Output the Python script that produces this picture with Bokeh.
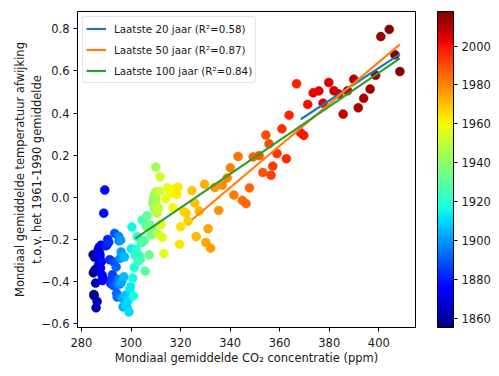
import numpy as np
from bokeh.plotting import figure
from bokeh.models import (ColumnDataSource, LinearColorMapper, ColorBar, FixedTicker,
                          Range1d)
from bokeh.transform import transform
from bokeh.embed import file_html
from bokeh.resources import INLINE

# ---------------- data ----------------
first_year = 1855
temp_anomaly = [
    -0.272, -0.358, -0.461, -0.467, -0.284,                                   # 1855-1859
    -0.343, -0.407, -0.524, -0.278, -0.494, -0.279, -0.251, -0.321, -0.238, -0.262,  # 1860s
    -0.276, -0.335, -0.227, -0.304, -0.368, -0.395, -0.384, -0.075, 0.035, -0.230,   # 1870s
    -0.227, -0.200, -0.213, -0.296, -0.409, -0.389, -0.367, -0.418, -0.307, -0.171,  # 1880s
    -0.416, -0.330, -0.455, -0.473, -0.410, -0.390, -0.186, -0.206, -0.412, -0.289,  # 1890s
    -0.203, -0.259, -0.402, -0.479, -0.520, -0.377, -0.283, -0.465, -0.511, -0.522,  # 1900s
    -0.490, -0.544, -0.437, -0.424, -0.244, -0.141, -0.383, -0.468, -0.333, -0.275,  # 1910s
    -0.247, -0.187, -0.302, -0.276, -0.294, -0.215, -0.108, -0.210, -0.206, -0.350,  # 1920s
    -0.137, -0.087, -0.137, -0.273, -0.131, -0.178, -0.147, -0.026, -0.006, -0.052,  # 1930s
    0.014, 0.020, -0.027, -0.004, 0.144, 0.025, -0.071, -0.038, -0.039, -0.074,      # 1940s
    -0.173, -0.052, 0.028, 0.097, -0.129, -0.190, -0.267, -0.007, 0.046, 0.017,      # 1950s
    -0.049, 0.038, 0.014, 0.048, -0.223, -0.140, -0.068, -0.074, -0.113, 0.032,      # 1960s
    -0.027, -0.186, -0.065, 0.062, -0.214, -0.149, -0.241, 0.047, -0.062, 0.057,     # 1970s
    0.092, 0.140, 0.011, 0.194, -0.014, -0.030, 0.045, 0.192, 0.198, 0.118,          # 1980s
    0.296, 0.254, 0.105, 0.148, 0.208, 0.325, 0.183, 0.390, 0.539, 0.306,            # 1990s
    0.294, 0.441, 0.496, 0.505, 0.447, 0.545, 0.506, 0.491, 0.395, 0.506,            # 2000s
    0.560, 0.425, 0.470, 0.514, 0.579, 0.763, 0.797, 0.677, 0.597,                   # 2010-2018
]
co2_ppm = [
    284.7, 284.8, 285.0, 285.1, 285.3,                                        # 1855-1859
    285.5, 285.7, 285.9, 286.1, 286.3, 286.5, 286.7, 286.9, 287.1, 287.3,     # 1860s
    287.5, 287.7, 287.9, 288.1, 288.3, 288.5, 288.7, 289.0, 289.4, 289.8,     # 1870s
    290.2, 290.6, 291.0, 291.4, 291.8, 292.2, 292.5, 292.8, 293.1, 293.4,     # 1880s
    293.7, 294.0, 294.2, 294.4, 294.6, 294.8, 295.0, 295.2, 295.4, 295.6,     # 1890s
    295.8, 296.0, 296.2, 296.5, 296.8, 297.1, 297.4, 297.7, 298.0, 298.4,     # 1900s
    298.8, 299.2, 299.5, 299.8, 300.1, 300.4, 300.7, 301.0, 301.3, 301.7,     # 1910s
    302.1, 302.5, 302.9, 303.3, 303.7, 304.1, 304.5, 304.9, 305.3, 305.7,     # 1920s
    306.1, 306.5, 306.9, 307.3, 307.7, 308.1, 308.5, 308.8, 309.1, 309.4,     # 1930s
    309.6, 309.8, 309.9, 310.0, 310.0, 310.1, 310.2, 310.3, 310.4, 310.6,     # 1940s
    310.8, 311.1, 311.4, 311.7, 312.1, 312.6, 313.2, 313.9, 314.8, 316.0,     # 1950s
    316.9, 317.6, 318.5, 319.0, 319.6, 320.0, 321.4, 322.2, 323.0, 324.6,     # 1960s
    325.7, 326.3, 327.5, 329.7, 330.2, 331.1, 332.1, 333.8, 335.4, 336.8,     # 1970s
    338.8, 340.1, 341.5, 343.2, 344.9, 346.4, 347.8, 349.3, 351.7, 353.2,     # 1980s
    354.4, 355.7, 356.5, 357.2, 358.9, 360.9, 362.7, 363.8, 366.8, 368.5,     # 1990s
    369.7, 371.3, 373.5, 375.8, 377.5, 379.8, 381.9, 383.8, 385.6, 387.4,     # 2000s
    389.9, 391.7, 393.9, 396.5, 398.7, 400.8, 404.2, 406.5, 408.5,            # 2010-2018
]
years = list(range(first_year, first_year + len(temp_anomaly)))

fit_periods = [20, 50, 100]
fit_labels = ["Laatste 20 jaar (R\u00b2=0.58)",
              "Laatste 50 jaar (R\u00b2=0.87)",
              "Laatste 100 jaar (R\u00b2=0.84)"]
fit_colors = ["#1f77b4", "#ff7f0e", "#2ca02c"]

x_ticks = [280, 300, 320, 340, 360, 380, 400]
y_ticks = [-0.6, -0.4, -0.2, 0.0, 0.2, 0.4, 0.6, 0.8]
y_tick_labels = ["\u22120.6", "\u22120.4", "\u22120.2", "0.0", "0.2", "0.4", "0.6", "0.8"]
cb_ticks = [1860, 1880, 1900, 1920, 1940, 1960, 1980, 2000]

x_label = "Mondiaal gemiddelde CO\u2082 concentratie (ppm)"
y_label = "Mondiaal gemiddelde temperatuur afwijking\nt.o.v. het 1961-1990 gemiddelde"

# ---------------- jet palette ----------------
def jet_palette(n=256):
    t = np.linspace(0, 1, n)
    r = np.interp(t, [0, 0.35, 0.66, 0.89, 1], [0, 0, 1, 1, 0.5])
    g = np.interp(t, [0, 0.125, 0.375, 0.64, 0.91, 1], [0, 0, 1, 1, 0, 0])
    b = np.interp(t, [0, 0.11, 0.34, 0.65, 1], [0.5, 1, 1, 0, 0])
    return ["#%02x%02x%02x" % (int(round(a * 255)), int(round(c * 255)), int(round(d * 255)))
            for a, c, d in zip(r, g, b)]

palette = jet_palette()
mapper = LinearColorMapper(palette=palette, low=1855.2, high=2017.8)

FONT = "DejaVu Sans"
TXT = "#1a1a1a"

p = figure(frame_width=338, frame_height=316,
           x_range=Range1d(278.4, 414.8), y_range=Range1d(-0.6176, 0.882),
           output_backend="svg", toolbar_location=None,
           min_border_left=77, min_border_top=11, min_border_bottom=45, min_border_right=80)

src = ColumnDataSource(dict(co2=co2_ppm, temp=temp_anomaly, year=years))
p.scatter("co2", "temp", source=src, size=9,
          fill_color=transform("year", mapper), line_color=transform("year", mapper),
          line_width=0.5)

co2_arr = np.array(co2_ppm)
t_arr = np.array(temp_anomaly)
for n, lab, col in zip(fit_periods, fit_labels, fit_colors):
    xs = co2_arr[-n:]
    ys = t_arr[-n:]
    a, b0 = np.polyfit(xs, ys, 1)
    xl = np.array([xs.min(), xs.max()])
    p.line(xl, a * xl + b0, line_color=col, line_width=2.2, legend_label=lab)

# axes
p.xgrid.visible = False
p.ygrid.visible = False
p.outline_line_color = "black"
p.outline_line_alpha = 1
p.outline_line_width = 1
for ax in (p.xaxis, p.yaxis):
    ax.axis_line_color = "black"
    ax.major_tick_line_color = "black"
    ax.major_tick_out = 4
    ax.major_tick_in = 0
    ax.minor_tick_line_color = None
    ax.major_label_text_font = FONT
    ax.major_label_text_font_size = "11.5px"
    ax.major_label_text_color = TXT
    ax.axis_label_text_font = FONT
    ax.axis_label_text_font_size = "11.5px"
    ax.axis_label_text_font_style = "normal"
    ax.axis_label_text_color = TXT
p.xaxis.ticker = FixedTicker(ticks=x_ticks)
p.yaxis.ticker = FixedTicker(ticks=y_ticks)
p.yaxis.major_label_overrides = {v: s for v, s in zip(y_ticks, y_tick_labels)}
p.xaxis.axis_label = x_label
p.yaxis.axis_label = y_label
p.xaxis.major_label_standoff = 6
p.yaxis.major_label_standoff = 4
p.xaxis.axis_label_standoff = 1
p.yaxis.axis_label_standoff = -5

# legend
lg = p.legend[0]
lg.location = "top_left"
lg.margin = 5
lg.padding = 3
lg.spacing = 4
lg.glyph_width = 20
lg.glyph_height = 17
lg.label_height = 17
lg.label_width = 128
lg.label_standoff = 8
lg.label_text_font = FONT
lg.label_text_font_size = "10.3px"
lg.label_text_color = TXT
lg.border_line_color = "#cccccc"
lg.border_line_width = 1
lg.background_fill_color = "white"
lg.background_fill_alpha = 0.8
lg.border_radius = 3

# colorbar
cb = ColorBar(color_mapper=mapper, ticker=FixedTicker(ticks=cb_ticks),
              width=16, height=316, location=(22, 0), margin=0, padding=0,
              bar_line_color="black", bar_line_width=1,
              major_tick_line_color="black", major_tick_in=0, major_tick_out=4,
              minor_tick_line_color=None,
              major_label_text_font=FONT, major_label_text_font_size="11.5px",
              major_label_text_color=TXT, label_standoff=4,
              background_fill_alpha=0, border_line_color=None)
p.add_layout(cb, "right")

open("out.html", "w").write(file_html(p, INLINE))
